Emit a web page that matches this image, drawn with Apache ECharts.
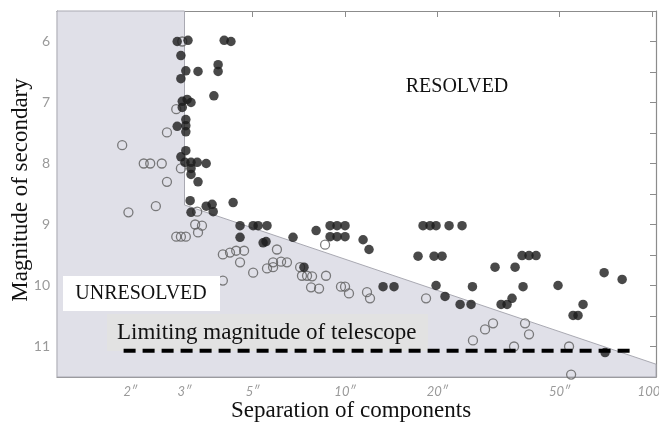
<!DOCTYPE html>
<html>
<head>
<meta charset="utf-8">
<script src="https://cdn.jsdelivr.net/npm/echarts@6/dist/echarts.min.js"></script>
<style>
  html, body { margin: 0; padding: 0; background: #fff; }
  #chart { width: 659px; height: 428px; }
</style>
</head>
<body>
<div id="chart"></div>
<script>
// separation in arcseconds, magnitude of the secondary
const resolvedSep = [2.84, 3.08, 4.04, 4.25, 2.92, 3.03, 3.32, 3.86, 3.86, 2.92, 3.74, 2.95, 3.06, 3.15, 2.95,
  2.84, 3.03, 3.03, 3.03, 3.03, 2.92, 3.01, 3.15, 3.30, 3.53, 3.15, 3.15, 3.32, 3.13, 3.15, 3.53, 3.69, 3.72,
  4.32, 4.55, 4.55, 5.02, 5.21, 5.57, 5.41, 5.53, 6.77, 8.05, 8.94, 9.42, 10.0, 8.94, 9.42, 10.0, 11.45, 11.97,
  7.35, 13.3, 14.44, 17.95, 18.92, 19.79, 21.82, 24.05, 17.29, 19.5, 20.7, 19.79, 21.17, 23.7, 25.73, 26.0,
  30.8, 35.8, 37.72, 39.74, 41.9, 38.0, 32.23, 33.71, 34.99, 49.4, 69.8, 79.9, 59.6, 55.3, 57.4, 70.3];
const resolvedMag = [6.0, 5.98, 5.98, 6.0, 6.23, 6.48, 6.49, 6.38, 6.49, 6.61, 6.89, 6.98, 6.95, 7.0, 7.08,
  7.39, 7.28, 7.38, 7.48, 7.79, 7.89, 7.98, 7.98, 7.98, 8.0, 8.08, 8.18, 8.30, 8.61, 8.80, 8.70, 8.67, 8.79,
  8.64, 9.02, 9.21, 9.02, 9.02, 9.02, 9.30, 9.28, 9.21, 9.10, 9.02, 9.02, 9.02, 9.20, 9.20, 9.20, 9.25, 9.41,
  9.70, 10.02, 10.02, 9.02, 9.02, 9.02, 9.02, 9.02, 9.52, 9.52, 9.52, 10.0, 10.18, 10.31, 10.31, 10.02,
  9.70, 9.70, 9.51, 9.51, 9.51, 10.02, 10.31, 10.31, 10.21, 10.0, 9.79, 9.90, 10.31, 10.49, 10.49, 11.1];

const unresolvedSep = [2.95, 2.82, 2.63, 1.88, 2.92, 2.21, 2.32, 2.53, 2.63, 3.30, 1.97, 2.42, 3.25, 3.42,
  3.32, 2.82, 2.92, 3.03, 4.0, 4.22, 4.42, 4.69, 4.55, 5.02, 4.0, 6.0, 5.57, 5.83, 5.83, 6.19, 6.47, 7.24,
  7.52, 7.81, 8.67, 7.75, 8.23, 8.61, 9.70, 10.0, 10.3, 11.79, 12.06, 18.36, 26.1, 28.58, 30.34, 38.57,
  39.74, 35.52, 53.66, 54.5, 7.14];
const unresolvedMag = [6.0, 7.11, 7.49, 7.70, 8.08, 8.0, 8.0, 8.0, 8.30, 8.79, 8.80, 8.70, 9.0, 9.02,
  9.13, 9.20, 9.20, 9.20, 9.49, 9.46, 9.43, 9.43, 9.62, 9.79, 9.92, 9.41, 9.72, 9.70, 9.62, 9.61, 9.62, 9.84,
  9.84, 9.85, 9.84, 10.03, 10.05, 9.33, 10.02, 10.02, 10.13, 10.11, 10.21, 10.21, 10.90, 10.72, 10.62, 10.62,
  10.80, 11.0, 11.0, 11.46, 9.70];

// unresolved zone outline
const shadeSep = [1.153, 3, 3, 103, 103, 1.153];
const shadeMag = [5.5, 5.5, 8.68, 11.29, 11.5, 11.5];

// limiting magnitude line
const limitSep = [1.9, 88.7];
const limitMag = [11.07, 11.07];

const sepTicks = [2, 3, 5, 10, 20, 50, 100];
const magTicks = [6, 7, 8, 9, 10, 11];

const SERIF = '"Liberation Serif", "Times New Roman", serif';
const lg = v => Math.log10(v);
const toPairs = (xs, ys) => xs.map((x, i) => [lg(x), ys[i]]);

const xMin = lg(shadeSep[0]);
const xMax = lg(shadeSep[3]);
const sepTickPos = sepTicks.map(lg);

const chart = echarts.init(document.getElementById('chart'), null, { renderer: 'canvas' });

const xAxisBase = {
  type: 'value',
  min: xMin,
  max: xMax,
  splitLine: { show: false },
  axisLine: { show: true, onZero: false, lineStyle: { color: '#8c8c8c', width: 1.2 } },
  axisTick: { show: true, inside: true, length: 6, customValues: sepTickPos, lineStyle: { color: '#8c8c8c' } }
};

const yAxisBase = {
  type: 'value',
  inverse: true,
  min: 5.5,
  max: 11.5,
  interval: 0.5,
  splitLine: { show: false },
  axisLine: { show: true, onZero: false, lineStyle: { color: '#8c8c8c', width: 1.2 } },
  axisTick: { show: true, inside: true, length: 6, lineStyle: { color: '#8c8c8c' } }
};

const option = {
  animation: false,
  backgroundColor: '#fff',
  grid: { left: 57, right: 3, top: 11, bottom: 51, containLabel: false, outerBoundsMode: 'none' },
  xAxis: [
    Object.assign({}, xAxisBase, {
      position: 'bottom',
      axisLabel: {
        show: true,
        customValues: sepTickPos,
        margin: 8,
        color: '#9a9a9a',
        fontFamily: 'Lato, "DejaVu Sans", sans-serif',
        fontStyle: 'italic',
        fontSize: 13,
        formatter: v => Math.round(Math.pow(10, v)) + '″'
      }
    }),
    Object.assign({}, xAxisBase, { position: 'top', axisLabel: { show: false } })
  ],
  yAxis: [
    Object.assign({}, yAxisBase, {
      position: 'left',
      axisLabel: {
        show: true,
        customValues: magTicks,
        margin: 7,
        color: '#9a9a9a',
        fontFamily: 'Lato, "DejaVu Sans", sans-serif',
        fontSize: 14
      }
    }),
    Object.assign({}, yAxisBase, { position: 'right', axisLabel: { show: false } })
  ],
  series: [
    {
      // grey unresolved zone
      type: 'custom',
      z: 1,
      silent: true,
      data: [[0, 0]],
      renderItem: (params, api) => ({
        type: 'polygon',
        shape: { points: shadeSep.map((s, i) => api.coord([lg(s), shadeMag[i]])) },
        style: { fill: '#e0e0e8', stroke: '#a9a9b2', lineWidth: 1 }
      })
    },
    {
      type: 'scatter',
      z: 3,
      symbol: 'circle',
      symbolSize: 9,
      data: toPairs(unresolvedSep, unresolvedMag),
      itemStyle: { color: 'rgba(0,0,0,0)', borderColor: '#5e5e5e', borderWidth: 1.3 }
    },
    {
      type: 'scatter',
      z: 4,
      symbol: 'circle',
      symbolSize: 9.5,
      data: toPairs(resolvedSep, resolvedMag),
      itemStyle: { color: '#1c1c1c' }
    },
    {
      type: 'line',
      z: 20,
      symbol: 'none',
      silent: true,
      data: toPairs(limitSep, limitMag),
      lineStyle: { color: '#000', width: 4, type: [12, 7] }
    }
  ],
  graphic: [
    { type: 'rect', z: 10, shape: { x: 63, y: 276, width: 157, height: 35 }, style: { fill: '#fff' } },
    { type: 'text', z: 11, x: 141, y: 294,
      style: { text: 'UNRESOLVED', font: '20px ' + SERIF, fill: '#111', align: 'center', verticalAlign: 'middle' } },
    { type: 'rect', z: 10, shape: { x: 107, y: 314, width: 321, height: 37 }, style: { fill: '#e2e2e2' } },
    { type: 'text', z: 11, x: 117, y: 333,
      style: { text: 'Limiting magnitude of telescope', font: '23px ' + SERIF, fill: '#111', align: 'left', verticalAlign: 'middle' } },
    { type: 'text', z: 11, x: 457, y: 87,
      style: { text: 'RESOLVED', font: '20px ' + SERIF, fill: '#111', align: 'center', verticalAlign: 'middle' } },
    { type: 'text', z: 11, x: 21, y: 190, rotation: Math.PI / 2,
      style: { text: 'Magnitude of secondary', font: '23px ' + SERIF, fill: '#111', align: 'center', verticalAlign: 'middle' } },
    { type: 'text', z: 11, x: 351, y: 411,
      style: { text: 'Separation of components', font: '23px ' + SERIF, fill: '#111', align: 'center', verticalAlign: 'middle' } }
  ]
};

chart.setOption(option);
</script>
</body>
</html>
